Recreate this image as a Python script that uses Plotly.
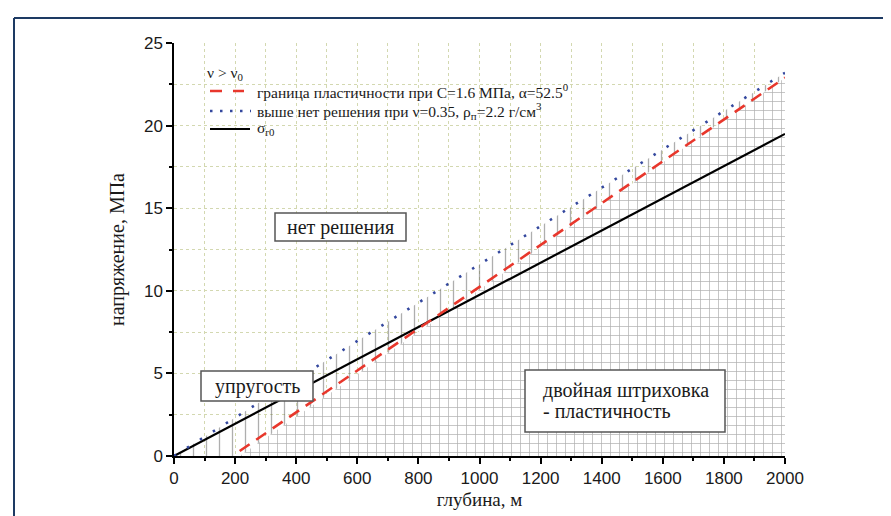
import plotly.graph_objects as go

# ---- data ----
depth = [0, 2000]                 # m
sigma_r0 = [0, 19.5]              # MPa, black line
plast_depth = [215, 2000]         # m, red dashed (plasticity boundary)
plast_stress = [0.3, 22.9]
nosol_depth = [0, 2000]           # m, blue dotted (no solution above)
nosol_stress = [0, 23.2]

x_ticks = [0, 200, 400, 600, 800, 1000, 1200, 1400, 1600, 1800, 2000]
y_ticks = [0, 5, 10, 15, 20, 25]

legend_header = "ν > ν<sub>0</sub>"
legend_names = ["граница пластичности при С=1.6 МПа, α=52.5<sup>0</sup>",
                "выше нет решения при ν=0.35, ρ<sub>п</sub>=2.2 г/см<sup>3</sup>",
                "σ<sub>r0</sub>"]

W, H = 891, 516
L, R, T, B = 166, 114, 35, 68
PW, PH = W - L - R, H - T - B

SERIF = "Liberation Serif"
SANS = "Liberation Sans"
TXT = "#1a1a1a"

RED = "#e8372c"
BLUE = "#34489e"
HATCH = "#5e5e5e"


def px2x(px):
    return (px - L) / PW * 2000


def py2y(py):
    return (H - B - py) / PH * 25


def ppx(px):
    return (px - L) / PW


def ppy(py):
    return (H - B - py) / PH


fig = go.Figure()

# hatched region below the "no solution" line (vertical hatch)
fig.add_trace(go.Scatter(
    x=[nosol_depth[0], nosol_depth[1], nosol_depth[1], nosol_depth[0]],
    y=[nosol_stress[0], nosol_stress[1], 0, 0],
    fill="toself", mode="none", fillcolor="rgba(0,0,0,0)",
    fillpattern=dict(shape="|", size=13, solidity=0.1, fgcolor=HATCH,
                     bgcolor="rgba(255,255,255,0)"),
    showlegend=False, hoverinfo="skip"))

# double hatched region below plasticity line
fig.add_trace(go.Scatter(
    x=[plast_depth[0], plast_depth[1], plast_depth[1], plast_depth[0]],
    y=[0, plast_stress[1], 0, 0],
    fill="toself", mode="none", fillcolor="rgba(0,0,0,0)",
    fillpattern=dict(shape="+", size=9, solidity=0.15, fgcolor=HATCH,
                     bgcolor="white"),
    showlegend=False, hoverinfo="skip"))

fig.add_trace(go.Scatter(
    x=depth, y=sigma_r0, mode="lines", line=dict(color="black", width=2.2),
    name=legend_names[2], showlegend=False))
fig.add_trace(go.Scatter(
    x=plast_depth, y=plast_stress, mode="lines",
    line=dict(color=RED, width=2.6, dash="12px,8px"),
    name=legend_names[0], showlegend=False))
fig.add_trace(go.Scatter(
    x=nosol_depth, y=nosol_stress, mode="lines",
    line=dict(color=BLUE, width=2.6, dash="2.5px,12.8px"),
    name=legend_names[1], showlegend=False))

GRID = "#d3d8b0"
axis_common = dict(showline=True, linecolor="black", linewidth=1.5,
                   ticks="outside", tickcolor="black", tickwidth=1.5, ticklen=6,
                   showgrid=True, gridcolor=GRID, griddash="dot", gridwidth=1,
                   zeroline=False, mirror=False,
                   tickfont=dict(family=SANS, size=17, color=TXT))

fig.update_xaxes(range=[0, 2000], tickvals=x_ticks,
                 minor=dict(dtick=100, ticks="outside", ticklen=3, tickcolor="black",
                            showgrid=True, gridcolor=GRID, griddash="dot"),
                 title=dict(text="глубина, м", font=dict(family=SERIF, size=19, color=TXT),
                            standoff=6),
                 **axis_common)
fig.update_yaxes(range=[0, 25], tickvals=y_ticks,
                 minor=dict(dtick=2.5, ticks="outside", ticklen=3, tickcolor="black",
                            showgrid=True, gridcolor=GRID, griddash="dot"),
                 title=dict(text="напряжение, МПа", font=dict(family=SERIF, size=20, color=TXT),
                            standoff=14),
                 **axis_common)

# boxed labels
boxes = [
    (267, 398, 205, 233),
    (193, 305, 363, 393),
    (517, 717, 362, 424),
]
for (x0, x1, y0, y1) in boxes:
    fig.add_shape(type="rect", xref="x", yref="y",
                  x0=px2x(x0), x1=px2x(x1), y0=py2y(y0), y1=py2y(y1),
                  fillcolor="white", line=dict(color="#555", width=1.5), layer="above")

fig.add_annotation(x=px2x(332), y=py2y(219), text="нет решения", showarrow=False,
                   font=dict(family=SERIF, size=20, color=TXT))
fig.add_annotation(x=px2x(249), y=py2y(378), text="упругость", showarrow=False,
                   font=dict(family=SERIF, size=20, color=TXT))
fig.add_annotation(x=px2x(533), y=py2y(382), text="двойная штриховка",
                   showarrow=False, xanchor="left", yanchor="middle",
                   font=dict(family=SERIF, size=20, color=TXT))
fig.add_annotation(x=px2x(533), y=py2y(403), text="- пластичность",
                   showarrow=False, xanchor="left", yanchor="middle",
                   font=dict(family=SERIF, size=20, color=TXT))

# hand-built legend (matches the tight spacing of the source)
fig.add_annotation(xref="paper", yref="paper", x=ppx(197), y=ppy(65), text=legend_header,
                   showarrow=False, xanchor="left", yanchor="middle",
                   font=dict(family=SERIF, size=15.5, color=TXT))
legend_rows = [
    (83, RED, "12px,11px", 2.6, 236),
    (103, BLUE, "2.5px,7.5px", 2.6, 243),
    (121, "black", "solid", 2.2, 242),
]
for (yy, col, dash, wd, xend), name in zip(legend_rows, legend_names):
    fig.add_shape(type="line", xref="paper", yref="paper",
                  x0=ppx(202), x1=ppx(xend), y0=ppy(yy), y1=ppy(yy),
                  line=dict(color=col, width=wd, dash=dash))
    fig.add_annotation(xref="paper", yref="paper", x=ppx(247), y=ppy(yy), text=name,
                       showarrow=False, xanchor="left", yanchor="middle",
                       font=dict(family=SERIF, size=15.5, color=TXT))

# outer navy frame of the source picture
fig.add_shape(type="line", xref="paper", yref="paper",
              x0=ppx(6), x1=ppx(W + 5), y0=ppy(10), y1=ppy(10),
              line=dict(color="#1d3a63", width=2))
fig.add_shape(type="line", xref="paper", yref="paper",
              x0=ppx(6), x1=ppx(6), y0=ppy(10), y1=ppy(H + 5),
              line=dict(color="#1d3a63", width=2))

fig.update_layout(
    width=W, height=H,
    margin=dict(l=L, r=R, t=T, b=B),
    paper_bgcolor="white", plot_bgcolor="white",
    showlegend=False,
)

fig.write_html("out.html")
